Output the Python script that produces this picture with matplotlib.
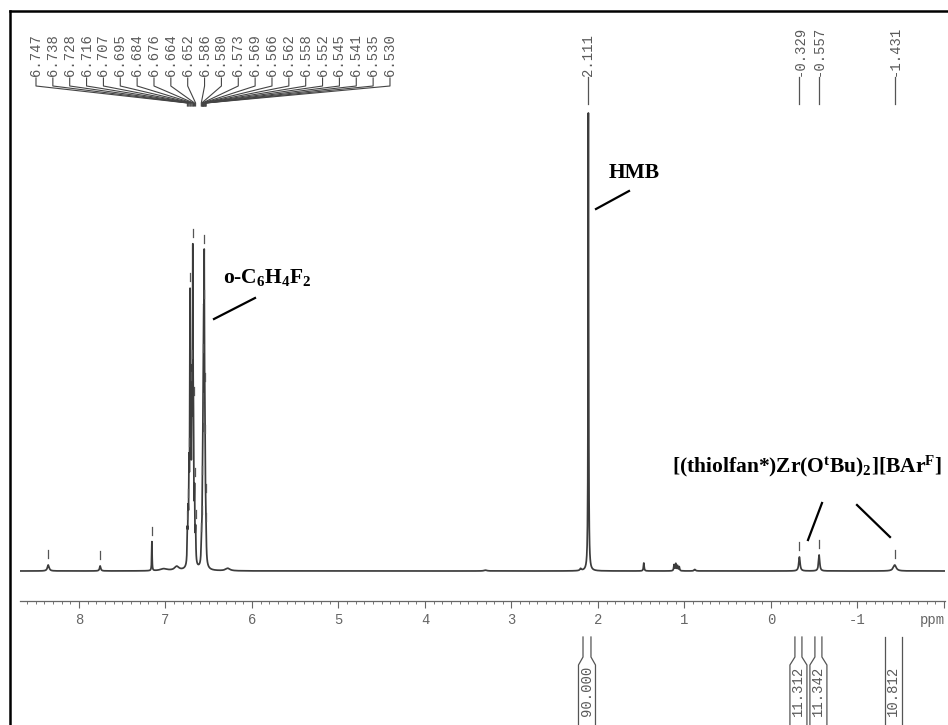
import numpy as np
import matplotlib
matplotlib.use('Agg')
import matplotlib.pyplot as plt
from matplotlib.lines import Line2D
from matplotlib.ticker import MultipleLocator

plt.rcParams['mathtext.default'] = 'regular'

W, H = 948, 725
PX = 1 / 86.5          # ppm per pixel on the chemical shift axis

# ---- peak list: shift (ppm), height (px above baseline), hwhm (ppm)
mult_ppm = [6.747, 6.738, 6.728, 6.716, 6.707, 6.695, 6.684, 6.676, 6.664, 6.652,
            6.586, 6.580, 6.573, 6.569, 6.566, 6.562, 6.558, 6.552, 6.545, 6.541,
            6.535, 6.530]
mult_h = [28, 40, 80, 245, 120, 150, 282, 100, 60, 30,
          12, 18, 28, 40, 48, 75, 135, 240, 85, 45, 25, 12]
mult_w = 0.0038

other_ppm = [8.355, 7.755, 7.157, 7.02, 6.87, 6.28, 3.30, 2.20, 2.111,
             1.47, 1.12, 1.10, 1.08, 1.06, 0.88, -0.329, -0.557, -1.431]
other_h = [6, 5, 29, 2, 4, 2.5, 0.8, 2, 458,
           8, 6, 7, 5, 4, 1.5, 14, 16, 6]
other_w = [0.012, 0.008, 0.003, 0.05, 0.03, 0.03, 0.02, 0.01, 0.0035,
           0.005, 0.005, 0.005, 0.005, 0.005, 0.01, 0.009, 0.008, 0.02]

# labelled shifts at the top
single_labels = [2.111, -0.329, -0.557, -1.431]
# unlabelled peaks that still carry a pick marker
marked_extra = [8.355, 7.755, 7.157]

# integrals: (inner left ppm, inner right ppm, value)
int_lo = [2.173, -0.277, -0.508, -1.316]
int_hi = [2.081, -0.358, -0.589, -1.513]
int_val = ['90.000', '11.312', '11.342', '10.812']

tick_vals = [8, 7, 6, 5, 4, 3, 2, 1, 0, -1, -2]
tick_text = ['8', '7', '6', '5', '4', '3', '2', '1', '0', '-1', '']


def spectrum(x):
    y = np.zeros_like(x)
    for p, h in zip(mult_ppm, mult_h):
        y += h / (1 + ((x - p) / mult_w) ** 2)
    for p, h, w in zip(other_ppm, other_h, other_w):
        y += h / (1 + ((x - p) / w) ** 2)
    return y


def fpos(px, py):
    return px / W, 1 - py / H


fig = plt.figure(figsize=(W / 100, H / 100), dpi=100)
ax = fig.add_axes([20 / W, 1 - 601 / H, 925 / W, 601 / H])
ax.set_xlim(8.682, -2.012)
ax.set_ylim(-30, 571)
for s in ['top', 'left', 'right']:
    ax.spines[s].set_visible(False)
ax.spines['bottom'].set_color('#666666')
ax.spines['bottom'].set_linewidth(0.9)
ax.set_yticks([])
ax.set_xticks(tick_vals)
ax.set_xticklabels(tick_text)
ax.xaxis.set_minor_locator(MultipleLocator(0.1))
ax.tick_params(axis='x', which='major', direction='out', length=5, width=0.8,
               color='#666666', labelsize=10, labelcolor='#666666', pad=4)
ax.tick_params(axis='x', which='minor', direction='out', length=2.2, width=0.7,
               color='#777777')
for lab in ax.get_xticklabels():
    lab.set_family('Liberation Mono')
ax.text(-1.87, -49, 'ppm', family='Liberation Mono', size=10, color='#666666',
        ha='center', va='center', clip_on=False)

# spectrum trace
xs = np.linspace(-2.012, 8.682, 120000)
ys = spectrum(xs)
ax.plot(xs, ys, color='#3c3c3c', lw=1.25)

# peak pick markers
for p in mult_ppm + single_labels[1:] + marked_extra:
    top = spectrum(np.array([p]))[0]
    ax.plot([p, p], [top + 7, top + 15], color='#555555', lw=0.9)

# peak labels, fanned group
lab_col = '#5a5a5a'
fan_x = np.linspace((771 - 36) * PX, (771 - 390) * PX, len(mult_ppm))
for lx, p in zip(fan_x, mult_ppm):
    ax.text(lx, 571 - 76, f'{p:.3f}', rotation=90, ha='center', va='bottom',
            family='Liberation Mono', size=10, color=lab_col, clip_on=False)
    ax.plot([lx, lx, p, p], [571 - 78, 571 - 86, 571 - 103, 571 - 106],
            color='#444444', lw=0.8, clip_on=False)

# single peak labels
for p in single_labels:
    ax.text(p, 571 - 76, f'{p:.3f}', rotation=90, ha='center', va='bottom',
            family='Liberation Mono', size=10, color=lab_col, clip_on=False)
    ax.plot([p, p], [571 - 77, 571 - 104], color='#555555', lw=0.9, clip_on=False)

# integrals below the axis
min_w = 17 * PX
for lo, hi, v in zip(int_lo, int_hi, int_val):
    wid = lo - hi
    flare = max(0.0, (min_w - wid) / 2)
    yt, y1, y2, yb = -66, -86, -94, -154
    for edge, sgn in [(lo, 1), (hi, -1)]:
        ax.plot([edge, edge, edge + sgn * flare, edge + sgn * flare],
                [yt, y1, y2, yb], color='#555555', lw=0.9, clip_on=False)
    ax.text((lo + hi) / 2, -95, v, rotation=90, ha='center', va='top',
            family='Liberation Mono', size=10, color=lab_col, clip_on=False)

# compound annotations
ann = dict(family='Liberation Serif', weight='bold', size=15.5, color='black',
           va='center')
fig.text(*fpos(609, 173), 'HMB', ha='left', **ann)
fig.text(*fpos(223, 278), 'o-C$_6$H$_4$F$_2$', ha='left', **ann)
fig.text(*fpos(942, 466), '[(thiolfan*)Zr(O$^t$Bu)$_2$][BAr$^F$]', ha='right', **ann)
for (x0, y0), (x1, y1) in [((596, 209), (629, 191)),
                           ((214, 319), (255, 298)),
                           ((822, 503), (808, 540)),
                           ((857, 505), (890, 537))]:
    fig.add_artist(Line2D([x0 / W, x1 / W], [1 - y0 / H, 1 - y1 / H],
                          color='black', lw=1.6))

# outer frame (left and top)
fig.add_artist(Line2D([10 / W, 10 / W], [0, 1 - 10.5 / H], color='black', lw=1.8))
fig.add_artist(Line2D([10 / W, 1], [1 - 10.5 / H, 1 - 10.5 / H], color='black', lw=1.8))

fig.savefig('out.png', dpi=100)
